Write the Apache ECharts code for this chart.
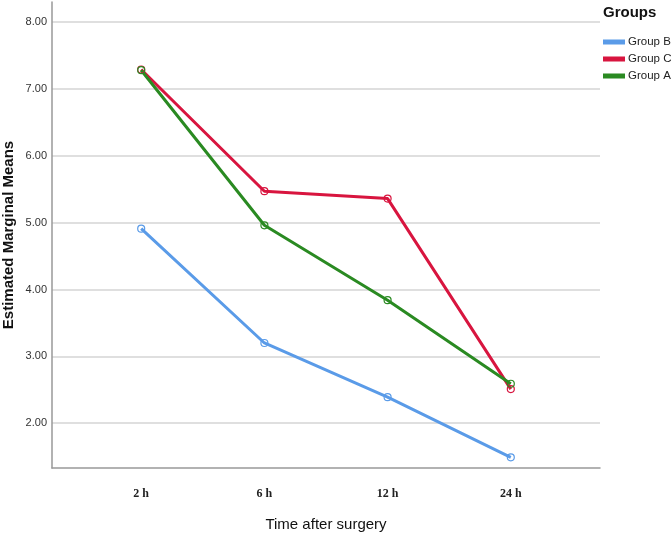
<!DOCTYPE html>
<html>
<head>
<meta charset="utf-8">
<script src="https://cdn.jsdelivr.net/npm/echarts@6/dist/echarts.min.js"></script>
<style>html,body{margin:0;padding:0;background:#fff}#c{width:672px;height:537px}</style>
</head>
<body>
<div id="c"></div>
<script>
var categories = ['2 h', '6 h', '12 h', '24 h'];
var groupB = [4.91, 3.20, 2.39, 1.49];
var groupC = [7.29, 5.47, 5.36, 2.51];
var groupA = [7.28, 4.96, 3.84, 2.59];
var yTicks = [2, 3, 4, 5, 6, 7, 8];

function pts(arr) { return arr.map(function (v, i) { return [i, v]; }); }
function mk(name, color, arr) {
  return {
    name: name, type: 'line', data: pts(arr),
    symbol: 'circle', symbolSize: 7,
    lineStyle: { color: color, width: 3 },
    itemStyle: { color: 'rgba(255,255,255,0)', borderColor: color, borderWidth: 1.2 },
    emphasis: { disabled: true }
  };
}
var chart = echarts.init(document.getElementById('c'));
chart.setOption({
  animation: false,
  backgroundColor: '#fff',
  grid: { left: 52, right: 72, top: 2, bottom: 69, outerBoundsMode: 'none', containLabel: false },
  legend: {
    left: 598, top: 31, orient: 'vertical', itemGap: 5, itemWidth: 20, itemHeight: 3,
    icon: 'rect',
    textStyle: { fontFamily: 'Liberation Sans', fontSize: 11.5, color: '#222', padding: [0, 0, 0, -1] },
    data: [
      { name: 'Group B', itemStyle: { color: '#5a9be8' } },
      { name: 'Group C', itemStyle: { color: '#d8153f' } },
      { name: 'Group A', itemStyle: { color: '#2a8a22' } }
    ]
  },
  graphic: [{
    type: 'text', left: 603, top: 5,
    style: { text: 'Groups', font: 'bold 15px "Liberation Sans"', fill: '#111' }
  }],
  xAxis: {
    type: 'value', min: -0.724, max: 3.724,
    name: 'Time after surgery', nameLocation: 'middle', nameGap: 49, nameMoveOverlap: false,
    nameTextStyle: { fontFamily: 'Liberation Sans', fontSize: 15, color: '#111' },
    axisLine: { onZero: false, lineStyle: { color: '#999', width: 1.5 } },
    axisTick: { show: false },
    splitLine: { show: false },
    axisLabel: {
      customValues: [0, 1, 2, 3], margin: 20,
      formatter: function (v) { return categories[Math.round(v)]; },
      fontFamily: 'Liberation Serif', fontWeight: 'bold', fontSize: 12, color: '#222'
    }
  },
  yAxis: {
    type: 'value', min: 1.33, max: 8.3,
    name: 'Estimated Marginal Means', nameLocation: 'middle', nameGap: 36, nameMoveOverlap: false,
    nameTextStyle: { fontFamily: 'Liberation Sans', fontWeight: 'bold', fontSize: 15, color: '#111' },
    axisLine: { show: true, onZero: false, lineStyle: { color: '#999', width: 1.5 } },
    axisTick: { show: false, customValues: yTicks },
    axisLabel: {
      customValues: yTicks, margin: 5,
      formatter: function (v) { return v.toFixed(2); },
      fontFamily: 'Liberation Sans', fontSize: 11, color: '#333'
    },
    splitLine: { show: true, lineStyle: { color: '#d4d4d4', width: 1.5 } }
  },
  series: [
    mk('Group B', '#5a9be8', groupB),
    mk('Group C', '#d8153f', groupC),
    mk('Group A', '#2a8a22', groupA)
  ]
});
</script>
</body>
</html>
